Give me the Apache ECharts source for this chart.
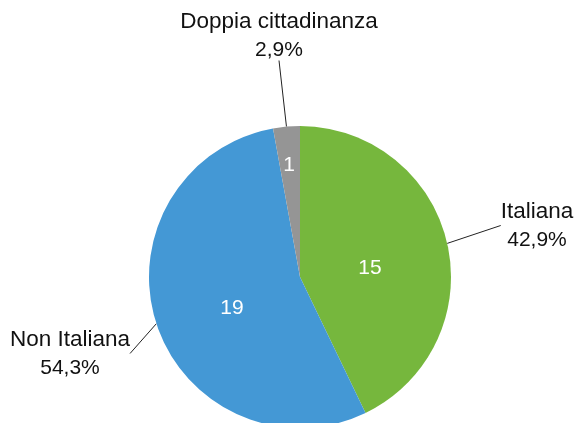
<!DOCTYPE html>
<html>
<head>
<meta charset="utf-8">
<script src="https://cdn.jsdelivr.net/npm/echarts@6/dist/echarts.min.js"></script>
<style>
  html, body { margin: 0; padding: 0; background: #fff; }
  #chart { width: 576px; height: 423px; }
</style>
</head>
<body>
<div id="chart"></div>
<script>
const categories = ["Italiana", "Non Italiana", "Doppia cittadinanza"];
const counts = [15, 19, 1];
const colors = ["#76B73D", "#4498D5", "#959595"];

// where each outer label sits (center of the text block)
const labelSpots = [[537, 226], [70, 354], [279, 36]];
// where the counts sit inside the slices
const innerSpots = [[370, 268], [232, 308], [289, 165]];

const total = counts.reduce((a, b) => a + b, 0);
const pieData = categories.map((name, i) => ({
  name,
  value: counts[i],
  itemStyle: { color: colors[i] }
}));

const chart = echarts.init(document.getElementById("chart"));
const font = "'Liberation Sans', Arial, sans-serif";

chart.setOption({
  animation: false,
  series: [
    {
      type: "pie",
      center: [300, 277],
      radius: 151,
      startAngle: 90,
      clockwise: true,
      data: pieData,
      label: {
        show: true,
        position: "outside",
        color: "#111",
        align: "center",
        formatter: (p) => "{n|" + p.name + "}\n{p|" + (p.value / total * 100).toFixed(1).replace(".", ",") + "%}",
        rich: {
          n: { fontFamily: font, fontSize: 22.5, lineHeight: 28, color: "#111" },
          p: { fontFamily: font, fontSize: 21, lineHeight: 28, color: "#111" }
        }
      },
      labelLine: {
        show: true,
        length: 4,
        length2: 0,
        lineStyle: { color: "#222", width: 1 }
      },
      labelLayout: (params) => {
        const spot = labelSpots[params.dataIndex];
        return { x: spot[0], y: spot[1], align: "center", verticalAlign: "middle" };
      },
      emphasis: { disabled: true }
    },
    {
      type: "pie",
      center: [300, 277],
      radius: 151,
      startAngle: 90,
      silent: true,
      data: pieData.map(d => ({ name: d.name, value: d.value, itemStyle: { color: "transparent" } })),
      label: {
        show: true,
        position: "inside",
        formatter: "{c}",
        fontFamily: font,
        fontSize: 21,
        color: "#fff"
      },
      labelLayout: (params) => {
        const spot = innerSpots[params.dataIndex];
        return { x: spot[0], y: spot[1], align: "center", verticalAlign: "middle" };
      },
      labelLine: { show: false }
    }
  ]
});
</script>
</body>
</html>
